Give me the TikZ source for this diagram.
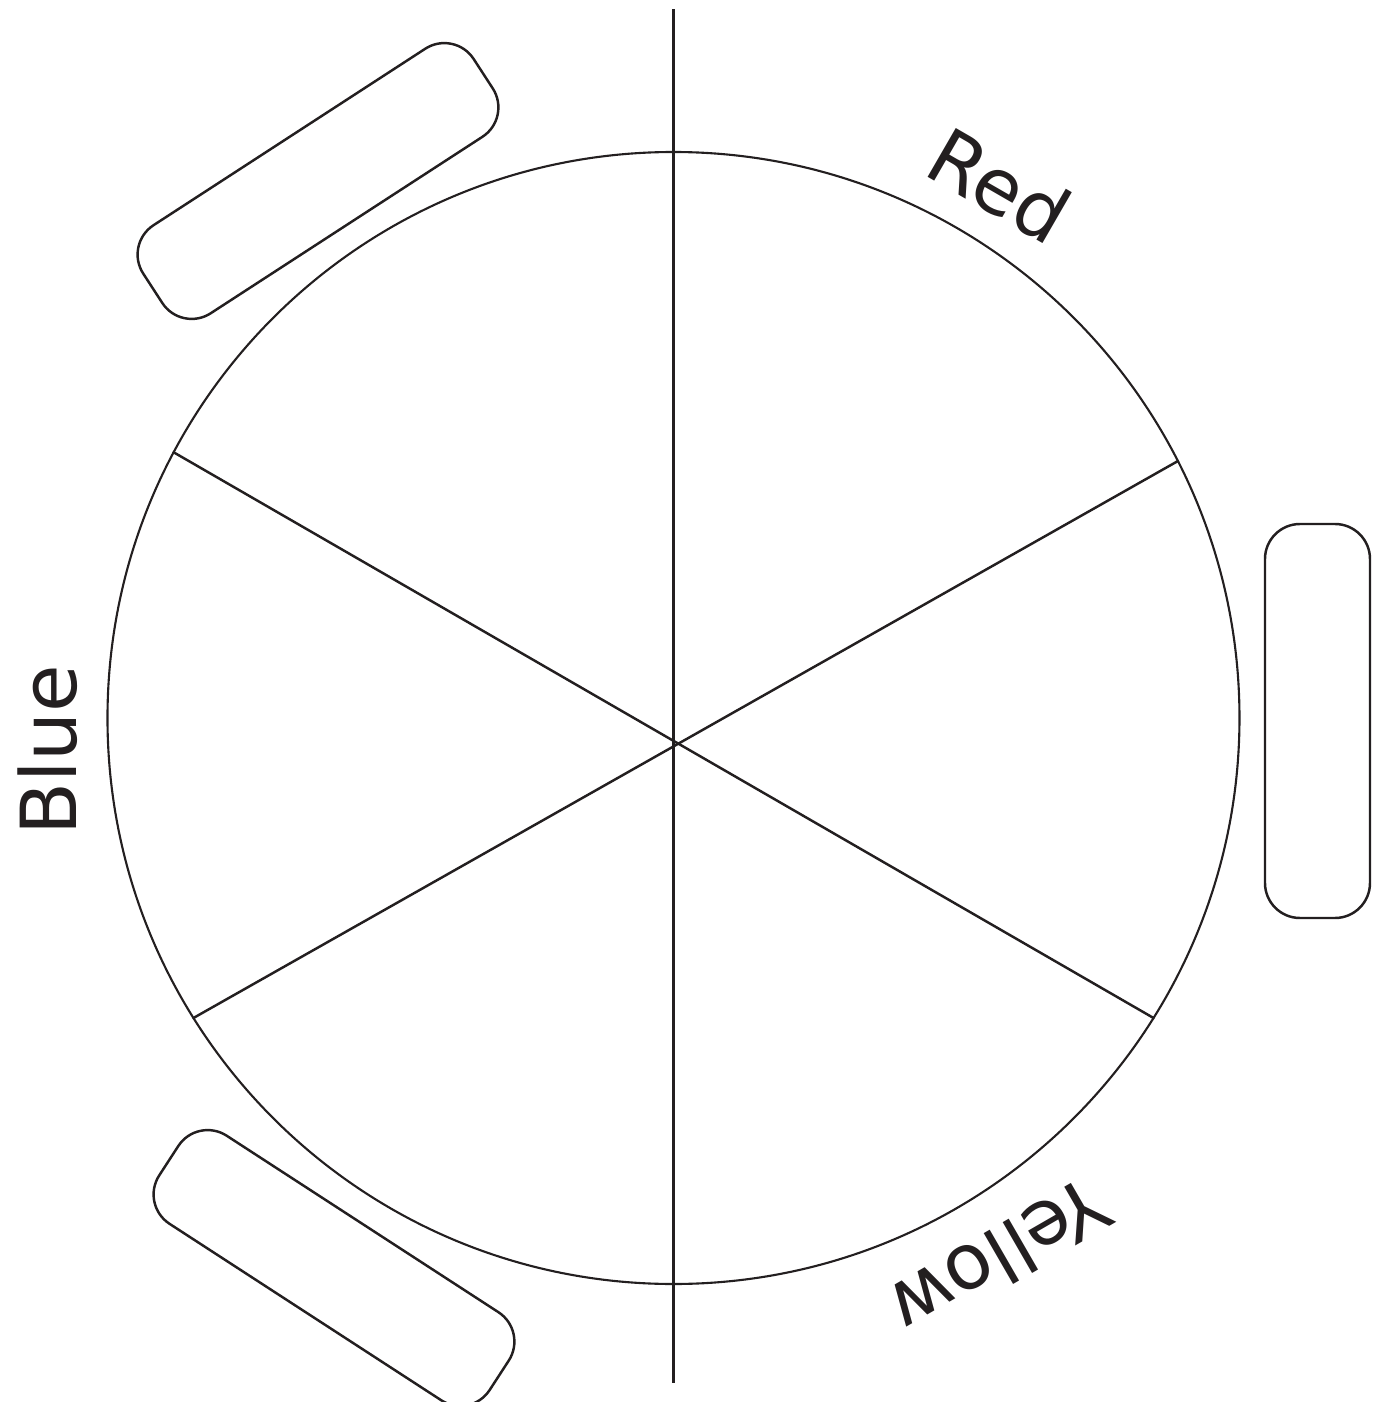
\documentclass[tikz,border=0pt]{standalone}
\usepackage{fontspec}
\newfontfamily\handfont{DejaVu Sans}
\usepackage{tikz}
\usetikzlibrary{positioning, calc}
\definecolor{cInk}{RGB}{35,31,32}
\tikzset{
  rim/.style={circle, draw=cInk, line width=0.6pt, minimum size=11.32cm,
              inner sep=0pt},
  spoke/.style={draw=cInk, line width=0.7pt},
  slot/.style={rectangle, rounded corners=0.35cm, draw=cInk, line width=0.7pt,
               minimum width=3.94cm, minimum height=1.05cm, inner sep=0pt},
  colourlabel/.style={text=cInk, font=\handfont\fontsize{22}{26}\selectfont,
                      inner sep=0pt},
}
\begin{document}
\begin{tikzpicture}

%% ============================================================
%%  FRAME  (picture is 13.79 x 14.02, wheel centre at origin)
%% ============================================================
\useasboundingbox (-6.735,-6.84) rectangle (7.055,7.18);

%% ----- Wheel -----
\node[rim] (wheel) at (0,0) {};

%% ----- Axis line -----
\coordinate (axisTop) at (0, 7.09);
\coordinate (axisBot) at (0,-6.65);
\draw[spoke] (axisTop) -- (axisBot);

%% ----- Slanted chords (meet just below centre) -----
\foreach \a/\b in {152.1/-32.06, 27.95/212.06} {
  \draw[spoke] (wheel.\a) -- (wheel.\b);
}

%% ============================================================
%%  Slots round the wheel
%% ============================================================
\node[slot, rotate=33]  (slotA) at (-3.555, 5.37) {};
\node[slot, rotate=90]  (slotB) at ( 6.44, -0.03) {};
\node[slot, rotate=-33] (slotC) at (-3.395,-5.50) {};

%% ============================================================
%%  Colour names (tops outward, read clockwise)
%% ============================================================
\node[colourlabel, rotate=-30] (lblRed)    at ( 3.265, 5.33) {Red};
\node[colourlabel, rotate=90]  (lblBlue)   at (-6.255,-0.32) {Blue};
\node[colourlabel, rotate=210] (lblYellow) at ( 3.265,-5.40) {Yellow};

\end{tikzpicture}
\end{document}
